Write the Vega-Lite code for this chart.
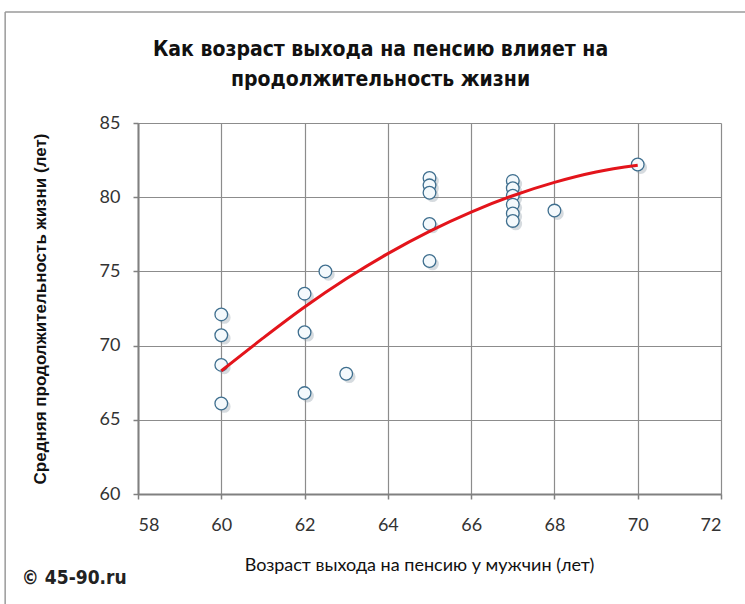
{
  "$schema": "https://vega.github.io/schema/vega-lite/v6.json",
  "width": 583,
  "height": 371,
  "autosize": {"type": "none"},
  "padding": {"left": 138, "top": 123, "right": 24, "bottom": 110},
  "background": "white",
  "title": {
    "text": ["Как возраст выхода на пенсию влияет на", "продолжительность жизни"],
    "font": "DejaVu Sans Condensed, Roboto, sans-serif",
    "fontSize": 21,
    "fontWeight": "bold",
    "color": "#111111",
    "anchor": "middle",
    "dx": -49,
    "offset": -79,
    "lineHeight": 30
  },
  "datasets": {
    "points": [
      {"age": 60, "life": 72.1},
      {"age": 60, "life": 70.7},
      {"age": 60, "life": 68.7},
      {"age": 60, "life": 66.1},
      {"age": 62, "life": 73.5},
      {"age": 62, "life": 70.9},
      {"age": 62, "life": 66.8},
      {"age": 62.5, "life": 75.0},
      {"age": 63, "life": 68.1},
      {"age": 65, "life": 81.3},
      {"age": 65, "life": 80.8},
      {"age": 65, "life": 80.3},
      {"age": 65, "life": 78.2},
      {"age": 65, "life": 75.7},
      {"age": 67, "life": 81.1},
      {"age": 67, "life": 80.6},
      {"age": 67, "life": 80.1},
      {"age": 67, "life": 79.5},
      {"age": 67, "life": 78.9},
      {"age": 67, "life": 78.4},
      {"age": 68, "life": 79.1},
      {"age": 70, "life": 82.2}
    ],
    "trend": [
      {"age": 60, "life": 68.3},
      {"age": 61, "life": 70.5},
      {"age": 62, "life": 72.6},
      {"age": 63, "life": 74.5},
      {"age": 64, "life": 76.2},
      {"age": 65, "life": 77.7},
      {"age": 66, "life": 79.0},
      {"age": 67, "life": 80.1},
      {"age": 68, "life": 81.0},
      {"age": 69, "life": 81.7},
      {"age": 70, "life": 82.15}
    ],
    "note": [{"label": "© 45-90.ru"}]
  },
  "config": {
    "view": {"stroke": null},
    "axis": {
      "grid": true,
      "gridColor": "#8c8c8c",
      "gridWidth": 1.2,
      "gridOpacity": 1,
      "domainColor": "#808080",
      "domainWidth": 2,
      "tickColor": "#808080",
      "tickWidth": 1.5,
      "tickSize": 5,
      "labelFont": "Lato",
      "labelFontSize": 18,
      "labelColor": "#333333",
      "titleColor": "#111111"
    }
  },
  "layer": [
    {
      "data": {"name": "points"},
      "mark": {"type": "point", "shape": "circle", "filled": true, "size": 160, "color": "#8a98a4", "opacity": 0.35, "xOffset": 3, "yOffset": 3, "strokeWidth": 0},
      "encoding": {
        "x": {
          "field": "age",
          "type": "quantitative",
          "scale": {"domain": [58, 72], "nice": false, "zero": false},
          "axis": {
            "values": [58, 60, 62, 64, 66, 68, 70, 72],
            "labelPadding": 17,
            "title": "Возраст  выхода  на пенсию  у мужчин  (лет)",
            "titleFont": "Lato",
            "titleFontSize": 18,
            "titleFontWeight": "normal",
            "titleX": 281,
            "titleY": 71,
            "titleBaseline": "middle",
            "titleAnchor": null
          }
        },
        "y": {
          "field": "life",
          "type": "quantitative",
          "scale": {"domain": [60, 85], "nice": false, "zero": false},
          "axis": {
            "values": [60, 65, 70, 75, 80, 85],
            "labelPadding": 13,
            "title": "Средняя  продолжительность  жизни  (лет)",
            "titleFont": "Liberation Sans",
            "titleFontSize": 17,
            "titleFontWeight": "bold",
            "titleAngle": 270,
            "titleX": -98,
            "titleY": 185.5,
            "titleBaseline": "middle",
            "titleAlign": "center"
          }
        }
      }
    },
    {
      "data": {"name": "points"},
      "mark": {"type": "point", "shape": "circle", "filled": true, "size": 160, "fill": "#f4f9fc", "stroke": "#3f6f8f", "strokeWidth": 1.3, "opacity": 1},
      "encoding": {
        "x": {"field": "age", "type": "quantitative"},
        "y": {"field": "life", "type": "quantitative"}
      }
    },
    {
      "data": {"name": "trend"},
      "mark": {"type": "line", "color": "#e3141b", "strokeWidth": 3, "interpolate": "monotone"},
      "encoding": {
        "x": {"field": "age", "type": "quantitative"},
        "y": {"field": "life", "type": "quantitative"}
      }
    },
    {
      "data": {"name": "note"},
      "mark": {"type": "text", "align": "left", "baseline": "middle", "font": "DejaVu Sans Condensed, Roboto, sans-serif", "fontSize": 19, "fontWeight": "bold", "color": "#222222"},
      "encoding": {
        "x": {"datum": 55.21, "type": "quantitative"},
        "y": {"datum": 54.34, "type": "quantitative"},
        "text": {"field": "label"}
      }
    },
    {
      "data": {"name": "note"},
      "mark": {"type": "rule", "color": "#9a9a9a", "strokeWidth": 1.5},
      "encoding": {
        "x": {"datum": 54.81, "type": "quantitative"},
        "x2": {"datum": 72.6},
        "y": {"datum": 92.48, "type": "quantitative"}
      }
    },
    {
      "data": {"name": "note"},
      "mark": {"type": "rule", "color": "#9a9a9a", "strokeWidth": 1.5},
      "encoding": {
        "x": {"datum": 54.81, "type": "quantitative"},
        "y": {"datum": 92.48, "type": "quantitative"},
        "y2": {"datum": 52.5}
      }
    }
  ]
}
